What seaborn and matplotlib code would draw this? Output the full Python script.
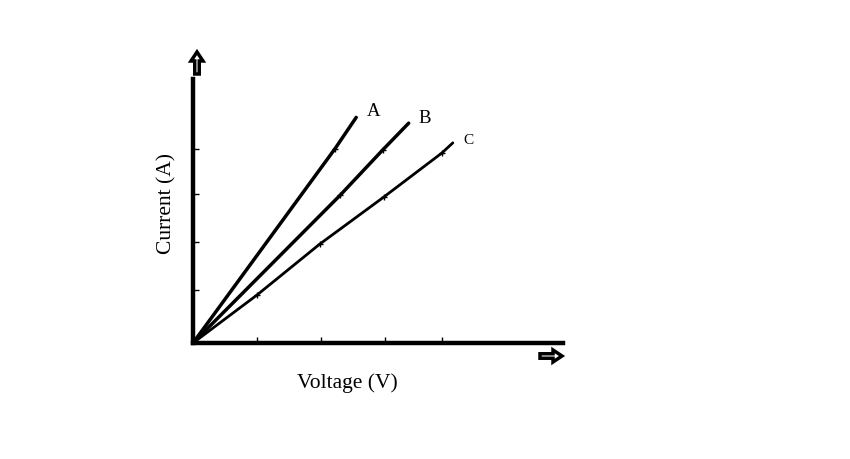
import matplotlib
matplotlib.use("Agg")
import matplotlib.pyplot as plt
import matplotlib.patches as mpatches
import seaborn as sns
import pandas as pd
import numpy as np

sns.set_theme(style="white")
plt.rcParams['font.family'] = ['Liberation Serif', 'DejaVu Serif']

# Data (arbitrary units)
line_names = ["A", "B", "C"]
voltage_A = [0.0, 2.22, 2.55]
current_A = [0.0, 4.05, 4.70]
voltage_B = [0.0, 2.30, 2.97, 3.37]
current_B = [0.0, 3.08, 4.03, 4.58]
voltage_C = [0.0, 1.0, 1.98, 2.98, 3.89, 4.06]
current_C = [0.0, 1.0, 2.06, 3.04, 3.96, 4.17]
x_ticks = [1.0, 2.0, 3.0, 3.89]
y_ticks = [1.1, 2.1, 3.1, 4.05]
x_label = "Voltage (V)"
y_label = "Current (A)"

frames = []
for name, v, c in [("A", voltage_A, current_A), ("B", voltage_B, current_B), ("C", voltage_C, current_C)]:
    frames.append(pd.DataFrame({"Voltage": v, "Current": c, "Line": name}))
df = pd.concat(frames, ignore_index=True)

fig = plt.figure(figsize=(8.5, 4.6), dpi=100)
ax = fig.add_axes([193/850, 1 - 344/460, 370/850, 264/460])

widths = {"A": 2.5, "B": 2.5, "C": 2.0}
for name in line_names:
    sub = df[df["Line"] == name]
    sns.lineplot(data=sub, x="Voltage", y="Current", ax=ax, color="black",
                 linewidth=widths[name], sort=False, estimator=None)
    # small cross marks at intermediate points
    ax.plot(sub["Voltage"].iloc[1:-1], sub["Current"].iloc[1:-1], linestyle="none",
            marker="+", markersize=5, markeredgewidth=1, color="black")

ax.set_xlim(0, 370/64)
ax.set_ylim(0, 264/48)
ax.set_xticks(x_ticks)
ax.set_yticks(y_ticks)
ax.set_xticklabels([])
ax.set_yticklabels([])
ax.tick_params(axis="both", direction="in", length=4, width=1, colors="black",
               bottom=True, left=True)
for side in ["top", "right"]:
    ax.spines[side].set_visible(False)
for side in ["left", "bottom"]:
    ax.spines[side].set_visible(True)
    ax.spines[side].set_color("black")
    ax.spines[side].set_linewidth(3.2)
ax.set_xlabel("")
ax.set_ylabel("")

# End labels
label_pos = {"A": (voltage_A[-1], current_A[-1]), "B": (voltage_B[-1], current_B[-1]),
             "C": (voltage_C[-1], current_C[-1])}
offsets = {"A": (0.17, 0.15), "B": (0.15, 0.12), "C": (0.16, 0.08)}
sizes = {"A": 13.5, "B": 13.5, "C": 11}
for name in line_names:
    x, y = label_pos[name]
    dx, dy = offsets[name]
    ax.text(x + dx, y + dy, name, fontsize=sizes[name], color="black", ha="left", va="center")

# Axis labels
fig.text(347/850, 1 - 383/460, x_label, fontsize=15.5, ha="center", va="center", color="black")
fig.text(167/850, 1 - 204/460, y_label, fontsize=15.5, ha="center", va="center",
         rotation=90, color="black")

# Hollow arrows
tr = fig.dpi_scale_trans
def px(x, y):
    return (x / 100.0, (460 - y) / 100.0)

up = mpatches.FancyArrow(*px(197, 75), 0, 0.22, width=0.045, head_width=0.12,
                         head_length=0.09, length_includes_head=True,
                         facecolor="white", edgecolor="black", linewidth=2.5, transform=tr)
right = mpatches.FancyArrow(*px(540, 357), 0.22, 0, width=0.045, head_width=0.12,
                            head_length=0.09, length_includes_head=True,
                            facecolor="white", edgecolor="black", linewidth=2.5, transform=tr)
fig.patches.extend([up, right])

fig.savefig("out.png", dpi=100, facecolor="white")
